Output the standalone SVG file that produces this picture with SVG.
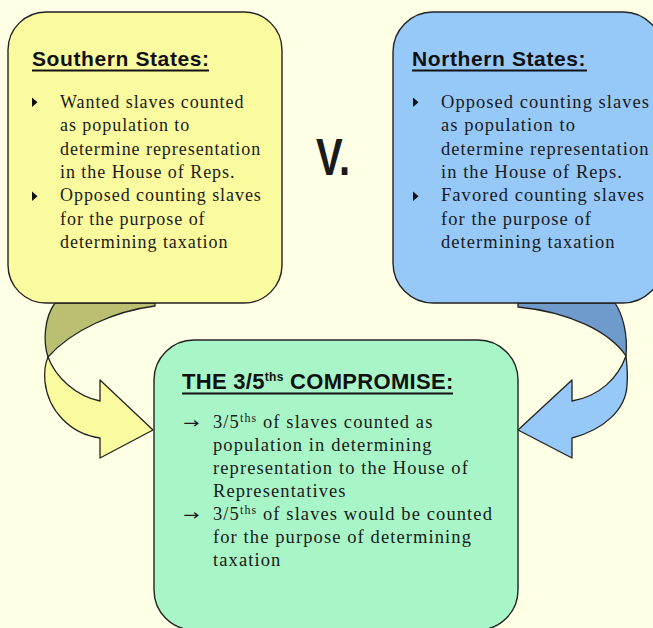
<svg xmlns="http://www.w3.org/2000/svg" width="653" height="628" viewBox="0 0 653 628">
<style>
.box{stroke:#222;stroke-width:1.4}
.title{font-family:"Liberation Sans",Arial,sans-serif;font-weight:bold;font-size:21px;letter-spacing:0.6px;fill:#111}
.body{font-family:"Liberation Serif","Times New Roman",serif;font-size:18px;letter-spacing:0.95px;fill:#1a1a1a}
.bodyN{font-family:"Liberation Serif","Times New Roman",serif;font-size:18.5px;letter-spacing:1.05px;fill:#1a1a1a}
.bodyG{font-family:"Liberation Serif","Times New Roman",serif;font-size:18.5px;letter-spacing:1.1px;fill:#1a1a1a}
.sup{font-size:12px}
.arrow{font-family:"DejaVu Sans",sans-serif;font-size:15px;fill:#1a1a1a}
.ul{stroke:#111;stroke-width:2}
.bul{fill:#111}
.arr{stroke:#222;stroke-width:1.3;stroke-linejoin:round}
</style>
<rect x="0" y="0" width="653" height="628" fill="#FFFFE6"/>
<g id="connectors">
  <path class="arr" fill="#BABF72" d="M55,303 L155,303 L155,306 C115,311 72,330 48,357 C43,342 44,318 55,303 Z"/>
  <path class="arr" fill="#FAFA9E" d="M48,357 C56,378 76,396 100,401 L100,380 L153,430 L100,458 L100,438 C70,434 48,410 45,382 C44,372 45,364 48,357 Z"/>
  <path class="arr" fill="#6E9BCC" d="M518,303 L615,303 C623,315 628,335 626,356 C610,332 570,312 518,307 Z"/>
  <path class="arr" fill="#96C8F8" d="M626,356 C618,378 600,396 572,401 L572,380 L518,430 L572,458 L572,438 C603,430 626,410 627,385 C628,375 627,365 626,356 Z"/>
</g>
<g id="southern">
  <rect class="box" x="8" y="12" width="274" height="291" rx="38" fill="#FAFA9E"/>
  <text class="title" x="32" y="66">Southern States:</text>
  <line class="ul" x1="32" y1="70.5" x2="209" y2="70.5"/>
  <polygon class="bul" points="32,97.5 32,107 37.5,102.25"/>
  <polygon class="bul" points="32,191.5 32,201 37.5,196.25"/>
  <text class="body" x="60" y="107.7">Wanted slaves counted</text>
  <text class="body" x="60" y="131.1">as population to</text>
  <text class="body" x="60" y="154.5">determine representation</text>
  <text class="body" x="60" y="177.9">in the House of Reps.</text>
  <text class="body" x="60" y="201.3">Opposed counting slaves</text>
  <text class="body" x="60" y="224.7">for the purpose of</text>
  <text class="body" x="60" y="248.1">determining taxation</text>
</g>
<g id="versus">
  <text transform="translate(316,175) scale(1,1.3)" x="0" y="0" font-family="'Liberation Sans',Arial,sans-serif" font-weight="bold" font-size="40" fill="#1a1a1a">V.</text>
</g>
<g id="northern">
  <rect class="box" x="393" y="12" width="270" height="291" rx="40" fill="#96C8F8"/>
  <text class="title" x="412" y="66">Northern States:</text>
  <line class="ul" x1="412" y1="70.5" x2="587" y2="70.5"/>
  <polygon class="bul" points="413,97.5 413,107 418.5,102.25"/>
  <polygon class="bul" points="413,191.5 413,201 418.5,196.25"/>
  <text class="bodyN" x="441" y="107.7">Opposed counting slaves</text>
  <text class="bodyN" x="441" y="131.1">as population to</text>
  <text class="bodyN" x="441" y="154.5">determine representation</text>
  <text class="bodyN" x="441" y="177.9">in the House of Reps.</text>
  <text class="bodyN" x="441" y="201.3">Favored counting slaves</text>
  <text class="bodyN" x="441" y="224.7">for the purpose of</text>
  <text class="bodyN" x="441" y="248.1">determining taxation</text>
</g>
<g id="compromise">
  <rect class="box" x="154" y="340" width="364" height="290" rx="40" fill="#A8F5C8"/>
  <text class="title" x="182" y="389" style="font-size:22px;letter-spacing:0.3px">THE 3/5<tspan style="font-size:12px" dy="-8">ths</tspan><tspan dy="8"> COMPROMISE:</tspan></text>
  <line class="ul" x1="182" y1="393.5" x2="453" y2="393.5"/>
  <text class="arrow" transform="translate(183,428) scale(1.3,1)" x="0" y="0">→</text>
  <text class="arrow" transform="translate(183,520) scale(1.3,1)" x="0" y="0">→</text>
  <text class="bodyG" x="213" y="428">3/5<tspan class="sup" dy="-6">ths</tspan><tspan dy="6"> of slaves counted as</tspan></text>
  <text class="bodyG" x="213" y="451">population in determining</text>
  <text class="bodyG" x="213" y="474">representation to the House of</text>
  <text class="bodyG" x="213" y="497">Representatives</text>
  <text class="bodyG" x="213" y="520">3/5<tspan class="sup" dy="-6">ths</tspan><tspan dy="6"> of slaves would be counted</tspan></text>
  <text class="bodyG" x="213" y="543">for the purpose of determining</text>
  <text class="bodyG" x="213" y="566">taxation</text>
</g>
</svg>
